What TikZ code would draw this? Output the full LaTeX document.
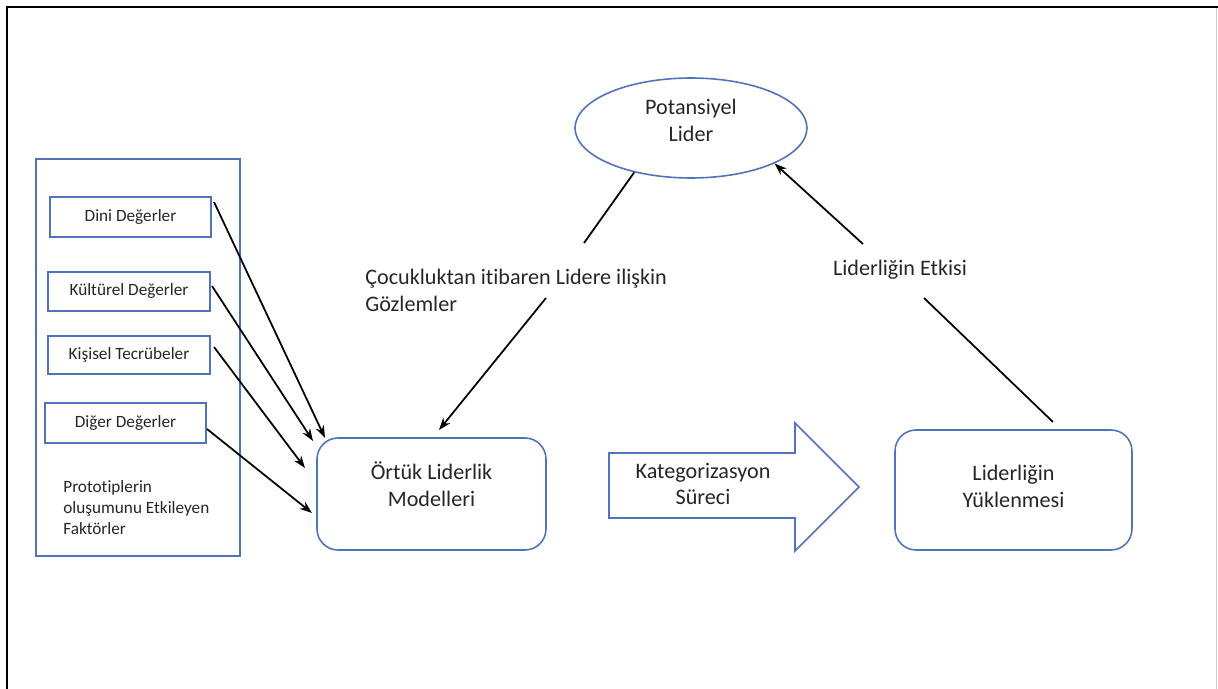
\documentclass[tikz,border=0pt]{standalone}
\usepackage{fontspec}
\setmainfont{Carlito}[Ligatures={NoCommon}]
\usetikzlibrary{arrows.meta,shapes.geometric}
\definecolor{bblue}{RGB}{80,115,185}
\definecolor{txt}{RGB}{38,38,38}
\begin{document}
\begin{tikzpicture}[x=0.02cm,y=-0.02cm,
  smallbox/.style={draw=bblue,line width=0.9pt,minimum height=0.8cm,text=txt,font=\fontsize{9.8}{12}\selectfont,inner sep=0pt},
  shape box/.style={draw=bblue,line width=0.9pt,inner sep=0pt},
  mainbox/.style={shape box,rounded corners=0.42cm},
  lbl/.style={text=txt,align=center,font=\fontsize{12.6}{15.3}\selectfont,inner sep=0pt},
  con/.style={black,line width=1pt},
  arr/.style={con,-{Stealth[length=7pt,width=5pt]}}]
\useasboundingbox (0,0) rectangle (1218,689);
% frame
\draw[black,line width=1.3pt] (1218,7) -- (7,7) -- (7,689);
\draw[gray!40,line width=0.4pt] (1216,8) -- (1216,689);
% left group
\node[shape box,minimum width=4.08cm,minimum height=7.94cm] (grp) at (138,357.5) {};
\node[smallbox,minimum width=3.22cm] (dini) at (130.5,217) {Dini Değerler};
\node[smallbox,minimum width=3.24cm,minimum height=0.78cm] (kult) at (129,291.5) {Kültürel Değerler};
\node[smallbox,minimum width=3.24cm,minimum height=0.76cm] (kisi) at (129,355) {Kişisel Tecrübeler};
\node[smallbox,minimum width=3.22cm] (diger) at (125.5,423) {Diğer Değerler};
\node[anchor=west,align=left,text=txt,font=\fontsize{9.8}{12}\selectfont,inner sep=0pt] (proto) at (63,508) {Prototiplerin\\oluşumunu Etkileyen\\Faktörler};
% main boxes
\node[mainbox,minimum width=4.58cm,minimum height=2.24cm] (ortuk) at (431.5,494) {};
\node[lbl] (ortukt) at (431.5,484) {Örtük Liderlik\\Modelleri};
\node[mainbox,minimum width=4.74cm,minimum height=2.4cm] (yuk) at (1013.5,490) {};
\node[lbl] (yukt) at (1013.5,486) {Liderliğin\\Yüklenmesi};
\node[ellipse,draw=bblue,line width=0.9pt,minimum width=4.64cm,minimum height=2.0cm,inner sep=0pt] (pot) at (691,128) {};
\node[lbl] (pott) at (691,120) {Potansiyel\\Lider};
% block arrow
\draw[bblue,line width=0.9pt,fill=white] (609,453) -- (795,453) -- (795,423) -- (859,487) -- (795,551) -- (795,518) -- (609,518) -- cycle;
\node[lbl] (kat) at (703,484) {Kategorizasyon\\Süreci};
% labels
\node[lbl,anchor=west,align=left] (gozlem) at (365,290) {Çocukluktan itibaren Lidere ilişkin\\Gözlemler};
\node[lbl] (etki) at (900,270) {Liderliğin Etkisi};
% coordinates
\coordinate (d1) at (214,202); \coordinate (d2) at (325,438);
\coordinate (k1) at (212,286); \coordinate (k2) at (313,441);
\coordinate (s1) at (214,347); \coordinate (s2) at (305,468);
\coordinate (g1) at (207,429); \coordinate (g2) at (312,513);
\coordinate (p1) at (584,243);
\coordinate (p2) at (546,298); \coordinate (p3) at (439,430);
\coordinate (e1) at (1053,422); \coordinate (e2) at (924,298);
\coordinate (e3) at (863,244);
% connectors
\draw[arr] (d1) -- (d2);
\draw[arr] (k1) -- (k2);
\draw[arr] (s1) -- (s2);
\draw[arr] (g1) -- (g2);
\draw[con] (pot.218) -- (p1);
\draw[arr] (p2) -- (p3);
\draw[con] (e1) -- (e2);
\draw[arr] (e3) -- (pot.-23);
\end{tikzpicture}
\end{document}
